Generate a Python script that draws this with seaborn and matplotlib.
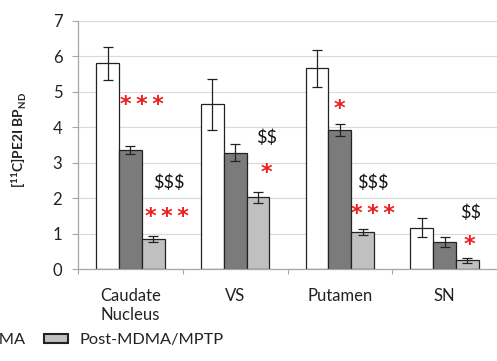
import matplotlib
matplotlib.use("Agg")
import matplotlib.pyplot as plt
import matplotlib.patches as mpatches
import seaborn as sns
import pandas as pd
import numpy as np

# Regional [11C]PE2I binding potential per condition
regions = ["Caudate\nNucleus", "VS", "Putamen", "SN"]
conditions = ["Baseline", "Post-MDMA", "Post-MDMA/MPTP"]
baseline = [5.80, 4.64, 5.66, 1.16]
post_mdma = [3.35, 3.28, 3.92, 0.76]
post_mdma_mptp = [0.84, 2.02, 1.04, 0.25]
baseline_err = [0.47, 0.72, 0.52, 0.27]
post_mdma_err = [0.12, 0.23, 0.18, 0.13]
post_mdma_mptp_err = [0.09, 0.15, 0.08, 0.07]
bar_colors = ["#ffffff", "#7b7b7b", "#c0c0c0"]

# Significance markers (region index + offset, y, text, colour)
ann_x = [0.11, 0.37, 0.35, 1.30, 1.30, 2.00, 2.31, 2.32, 3.25, 3.24]
ann_y = [4.82, 2.42, 1.64, 3.69, 2.88, 4.68, 2.42, 1.72, 1.58, 0.87]
ann_text = ["*\u2009*\u2009*", r"\$\$\$", "*\u2009*\u2009*", r"\$\$", "*", "*",
            r"\$\$\$", "*\u2009*\u2009*", r"\$\$", "*"]
ann_color = ["red", "black", "red", "black", "red", "red", "black", "red", "black", "red"]

sns.set_theme(style="white")
plt.rcParams["font.family"] = ["Lato", "DejaVu Sans"]
plt.rcParams["mathtext.fontset"] = "custom"
plt.rcParams["mathtext.bf"] = "Lato:bold"
plt.rcParams["mathtext.rm"] = "Lato"

values = [baseline, post_mdma, post_mdma_mptp]
errors = [baseline_err, post_mdma_err, post_mdma_mptp_err]
rows = []
for c, vals, errs in zip(conditions, values, errors):
    for r, v, e in zip(regions, vals, errs):
        rows.append({"region": r, "condition": c, "value": v, "err": e})
df = pd.DataFrame(rows)

fig = plt.figure(figsize=(4.97, 3.61), dpi=100)
ax = fig.add_axes([78 / 497, 1 - 269 / 361, 419 / 497, (269 - 20.7) / 361])

sns.barplot(data=df, x="region", y="value", hue="condition", order=regions,
            hue_order=conditions, palette=bar_colors, errorbar=None,
            width=0.655, edgecolor="#222222", linewidth=0.9, ax=ax,
            legend=False, zorder=2)

# Error bars at bar centres
bar_w = 0.655 / 3
for i, (vals, errs) in enumerate(zip(values, errors)):
    xs = np.arange(len(regions)) + (i - 1) * bar_w
    ax.errorbar(xs, vals, yerr=errs, fmt="none", ecolor="#222222",
                elinewidth=0.9, capsize=3.5, capthick=0.9, zorder=3)

for x, y, t, c in zip(ann_x, ann_y, ann_text, ann_color):
    if c == "red":
        # asterisks sit high on the baseline; shift so the glyph centres on y
        ax.annotate(t, (x, y), xytext=(0, -9), textcoords="offset points",
                    color="#ee1c1c", ha="center", va="baseline",
                    fontsize=16, fontweight="bold", family=["DejaVu Sans"],
                    zorder=4)
    else:
        ax.text(x, y, t, color="#111111", ha="center", va="center",
                fontsize=13, zorder=4)

ax.set_ylim(0, 7)
ax.set_xlim(-0.5, 3.5 - 3 / 105.5)
ax.set_yticks(range(0, 8))
ax.yaxis.grid(True, color="#d9d9d9", linewidth=0.8, zorder=0)
ax.set_axisbelow(True)

for s in ["top", "right"]:
    ax.spines[s].set_visible(False)
for s in ["left", "bottom"]:
    ax.spines[s].set_color("#a6a6a6")
    ax.spines[s].set_linewidth(0.9)

ax.tick_params(axis="y", which="major", length=4.3, width=0.8,
               color="#a6a6a6", pad=7, labelsize=12, labelcolor="#222222",
               left=True)
ax.set_xticks(range(len(regions)))
ax.set_xticklabels(regions, fontsize=12, color="#222222")
ax.tick_params(axis="x", which="major", length=0, pad=14)
ax.set_xticks(np.arange(-0.5, 4.0, 1.0), minor=True)
ax.tick_params(axis="x", which="minor", length=3.5, width=0.8,
               color="#a6a6a6", bottom=True)

ax.set_xlabel("")
ax.set_ylabel(r"[$^{\mathbf{11}}$C]PE2I BP$_{\mathbf{ND}}$", fontsize=10,
              fontweight="bold", color="#222222")
ax.yaxis.set_label_coords(-50 / 419, 0.52)

handles = [mpatches.Patch(facecolor=col, edgecolor="#222222", linewidth=1.5)
           for col in bar_colors]
fig.legend(handles, conditions, loc="center right", ncol=3,
           bbox_to_anchor=(224 / 497, 1 - 340 / 361), frameon=False,
           fontsize=11.8, handlelength=1.5, handleheight=0.5,
           handletextpad=0.7, columnspacing=1.1, borderpad=0,
           borderaxespad=0, labelcolor="#222222")

fig.savefig("out.png", dpi=100)
